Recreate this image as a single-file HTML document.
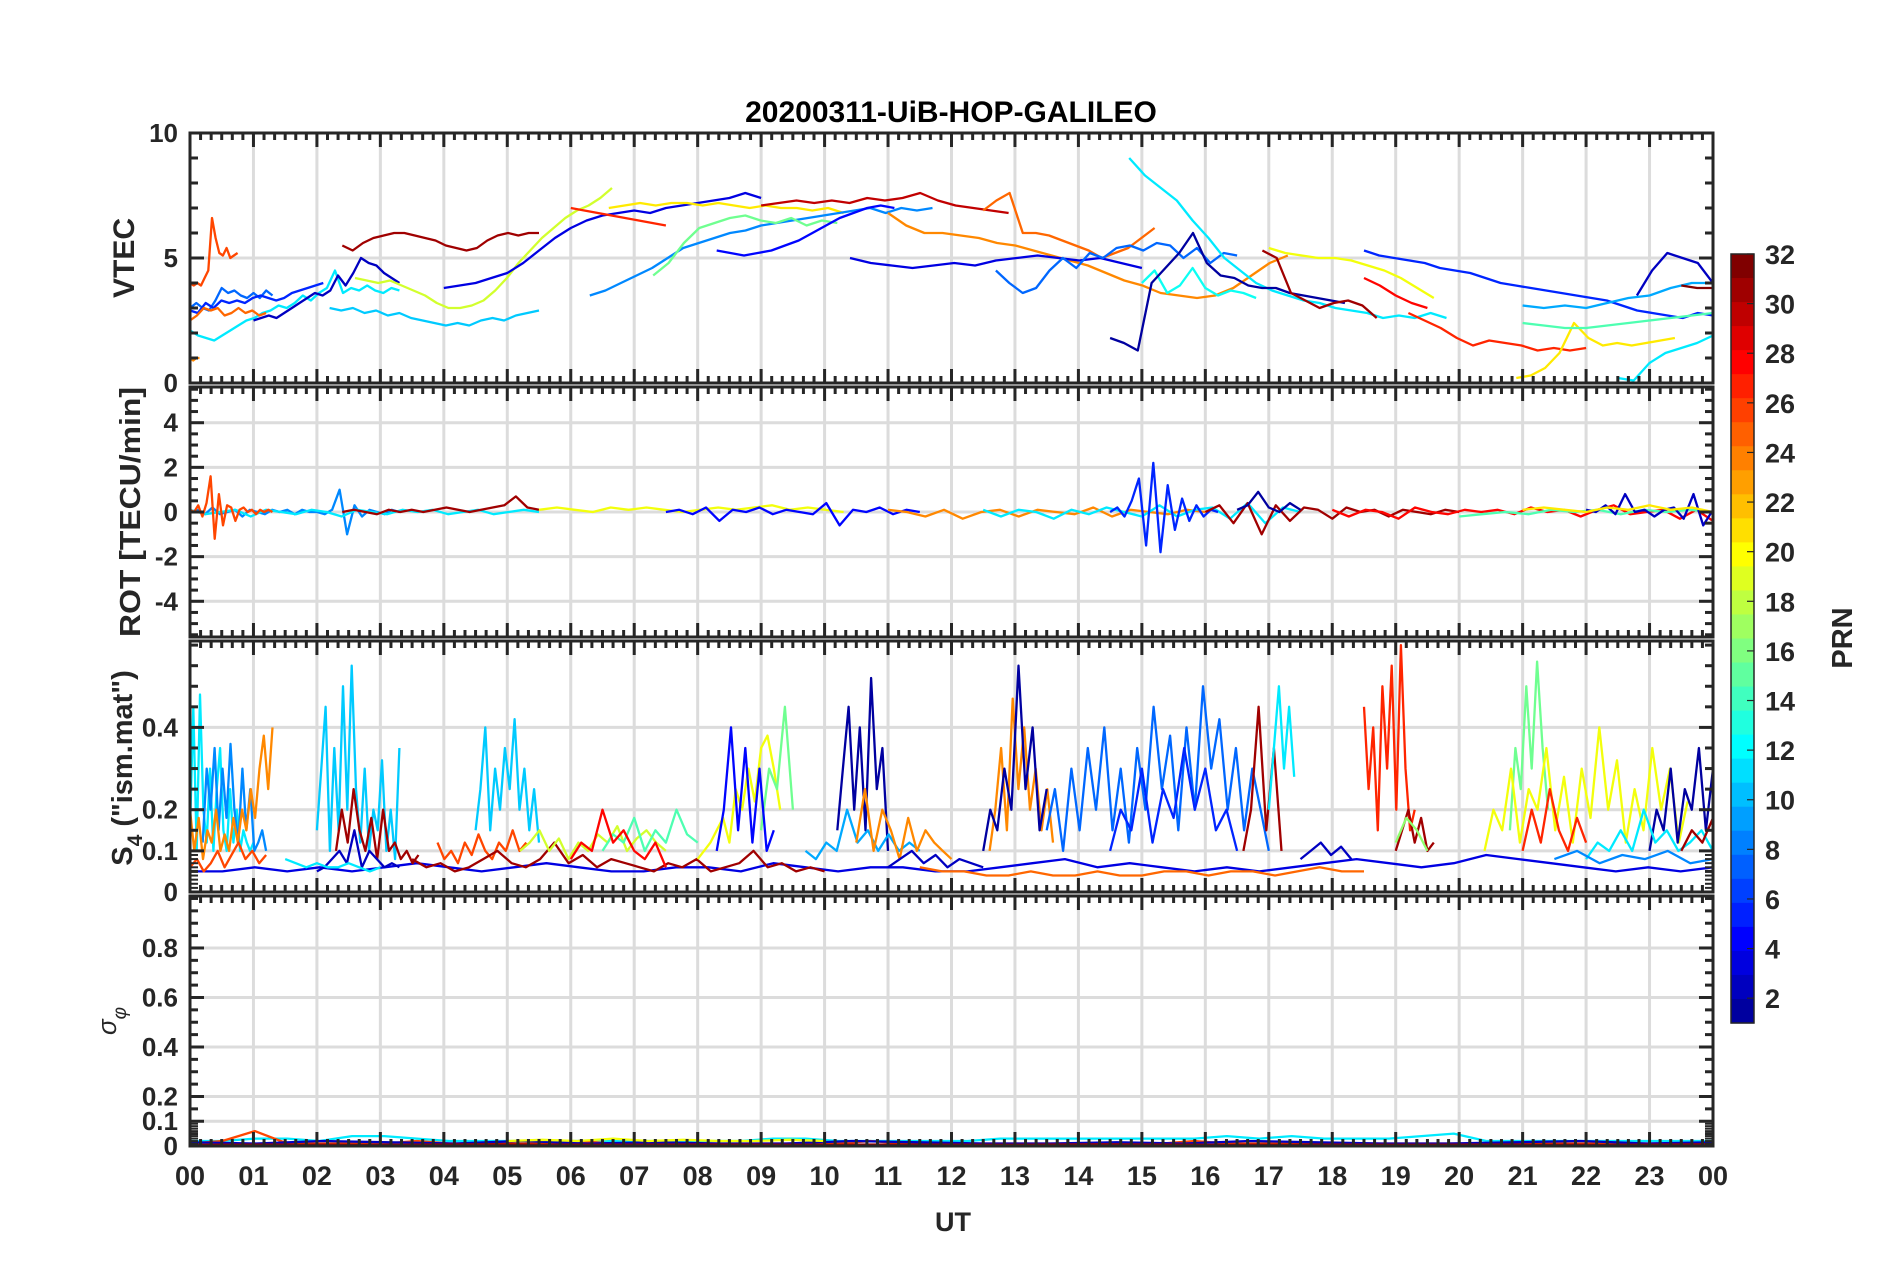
<!DOCTYPE html>
<html><head><meta charset="utf-8"><style>
html,body{margin:0;padding:0;background:#fff;}
svg{display:block;font-family:"Liberation Sans",Arial,sans-serif;}
</style></head><body>
<svg id="chart" width="1902" height="1272" viewBox="0 0 1902 1272" xmlns="http://www.w3.org/2000/svg">
<rect x="0" y="0" width="1902" height="1272" fill="#fff"/>
<text x="951" y="122" text-anchor="middle" font-size="30" font-weight="bold" fill="#000">20200311-UiB-HOP-GALILEO</text>
<text x="953" y="1231" text-anchor="middle" font-size="27" font-weight="bold" fill="#262626">UT</text>
<text transform="translate(134,258) rotate(-90)" text-anchor="middle" font-size="30" font-weight="bold" fill="#262626">VTEC</text>
<text transform="translate(140,512) rotate(-90)" text-anchor="middle" font-size="29" font-weight="bold" fill="#262626" textLength="250" lengthAdjust="spacingAndGlyphs">ROT [TECU/min]</text>
<text transform="translate(132,768) rotate(-90)" text-anchor="middle" font-size="29" font-weight="bold" fill="#262626">S<tspan font-size="21" dy="10">4</tspan><tspan dy="-10"> ("ism.mat")</tspan></text>
<text transform="translate(116,1021) rotate(-90)" text-anchor="middle" font-size="26" font-style="italic" fill="#262626">σ<tspan font-size="19" dy="10">φ</tspan></text>
<g id="plots"></g>
<g id="cbar"></g>
</svg>
<script>
// ---------- data ----------
const hourLabels = ["00","01","02","03","04","05","06","07","08","09","10","11","12","13","14","15","16","17","18","19","20","21","22","23","00"];
const vtecTicks = [0,5,10];
const rotTicks = [-4,-2,0,2,4];
const s4Ticks = [0,0.1,0.2,0.4];
const sigTicks = [0,0.1,0.2,0.4,0.6,0.8];
const cbarTicks = [2,4,6,8,10,12,14,16,18,20,22,24,26,28,30,32];

// each series: [PRN, start hour, end hour, values (evenly spaced)]
const vtecSeries = [
 [26,0,0.75,[4.0,3.9,4.0,3.9,4.2,4.5,6.6,5.8,5.2,5.1,5.4,5.0,5.1,5.2]],
 [24,0,0.15,[1.0,0.9,1.0,1.0]],
 [8,0,1.3,[3.0,3.2,3.0,2.9,3.3,3.8,3.6,3.7,3.5,3.4,3.6,3.4,3.7,3.5]],
 [12,0,3.3,[2.1,1.9,1.8,1.7,1.9,2.1,2.3,2.5,2.6,2.8,2.9,3.1,3.0,3.2,3.5,3.3,3.6,3.8,4.5,3.6,3.8,3.7,3.9,3.7,3.6,3.8,3.7]],
 [6,0,2.1,[2.9,2.8,3.2,3.0,3.3,3.2,3.3,3.2,3.4,3.5,3.4,3.3,3.4,3.6,3.7,3.8,3.9,4.0]],
 [25,0,1.2,[2.5,2.7,3.0,2.9,3.0,2.7,2.8,3.0,2.8,2.9,2.7,2.8]],
 [3,1.0,3.3,[2.5,2.6,2.7,2.6,2.8,3.0,3.2,3.4,3.6,3.5,3.7,4.3,3.9,4.4,5.0,4.8,4.7,4.4,4.2,4.0]],
 [31,2.4,5.5,[5.5,5.3,5.6,5.8,5.9,6.0,6.0,5.9,5.8,5.7,5.5,5.4,5.3,5.4,5.7,5.9,6.0,5.9,6.0,6.0]],
 [19,2.6,6.65,[4.2,4.1,4.0,4.1,3.9,3.7,3.5,3.2,3.0,3.0,3.1,3.3,3.7,4.2,4.8,5.3,5.8,6.2,6.6,6.9,7.1,7.4,7.8]],
 [11,2.2,5.5,[3.0,2.9,3.0,2.8,2.9,2.7,2.8,2.6,2.5,2.4,2.3,2.4,2.3,2.5,2.6,2.5,2.7,2.8,2.9]],
 [4,4.0,9.0,[3.8,3.9,4.0,4.2,4.4,4.8,5.3,5.8,6.2,6.5,6.7,6.8,6.9,6.8,7.0,7.1,7.2,7.3,7.4,7.6,7.4]],
 [21,6.6,10.3,[7.0,7.1,7.2,7.1,7.2,7.2,7.1,7.2,7.1,7.0,7.1,7.0,7.0,6.9,7.0,6.8]],
 [27,6.0,7.5,[7.0,6.9,6.8,6.7,6.6,6.5,6.4,6.3]],
 [9,6.3,11.7,[3.5,3.7,4.0,4.3,4.6,5.0,5.4,5.6,5.8,6.0,6.1,6.3,6.4,6.5,6.6,6.7,6.8,6.9,7.0,6.8,7.0,6.9,7.0]],
 [16,7.3,10.2,[4.3,4.8,5.6,6.2,6.4,6.6,6.7,6.5,6.4,6.6,6.3,6.5,6.4]],
 [5,8.3,11.1,[5.3,5.2,5.1,5.2,5.3,5.5,5.7,6.0,6.3,6.6,6.8,7.0,7.1,7.0]],
 [30,9.0,12.9,[7.1,7.2,7.3,7.2,7.3,7.2,7.4,7.3,7.4,7.6,7.3,7.1,7.0,6.9,6.8]],
 [24,11.0,17.3,[6.8,6.3,6.0,6.0,5.9,5.8,5.6,5.5,5.3,5.1,4.9,4.7,4.4,4.1,3.9,3.6,3.5,3.4,3.5,3.8,4.3,4.8,5.1]],
 [25,12.5,15.2,[6.9,7.3,7.6,6.0,6.0,5.9,5.7,5.5,5.3,5.0,5.2,5.4,5.8,6.2]],
 [4,10.4,15.0,[5.0,4.8,4.7,4.6,4.7,4.8,4.7,4.9,5.0,5.1,5.0,4.9,5.0,4.8,4.6]],
 [8,12.7,16.5,[4.5,4.0,3.6,3.8,4.5,5.0,4.6,5.2,5.0,5.4,5.5,5.3,5.6,5.5,5.0,5.4,4.8,5.2,5.1]],
 [12,14.8,19.8,[9.0,8.3,7.8,7.3,6.5,5.8,5.0,4.5,4.0,3.7,3.5,3.3,3.2,3.0,2.9,2.8,2.6,2.7,2.6,2.8,2.6]],
 [13,15.0,16.8,[4.0,4.5,3.6,3.9,4.6,3.8,3.5,3.7,3.6,3.4]],
 [2,14.5,18.2,[1.8,1.6,1.3,4.0,4.6,5.2,6.0,4.8,4.3,4.2,3.9,3.8,3.8,3.6,3.5,3.4,3.3,3.2]],
 [6,18.5,24,[5.3,5.1,5.0,4.9,4.8,4.6,4.5,4.4,4.2,4.0,3.9,3.8,3.7,3.6,3.5,3.4,3.3,3.1,2.9,2.8,2.7,2.6,2.8,2.7]],
 [31,16.9,18.7,[5.3,5.0,3.6,3.3,3.0,3.2,3.3,3.1,2.6]],
 [28,18.5,19.5,[4.2,3.9,3.5,3.2,3.0]],
 [20,17.0,19.6,[5.4,5.2,5.1,5.0,5.0,4.9,4.7,4.5,4.2,3.8,3.4]],
 [27,19.2,22.0,[2.8,2.5,2.2,1.8,1.5,1.7,1.6,1.5,1.3,1.4,1.3,1.4]],
 [21,20.9,23.4,[0.2,0.3,0.6,1.2,2.4,1.8,1.5,1.6,1.5,1.6,1.7,1.8]],
 [15,21.0,24,[2.4,2.3,2.2,2.2,2.3,2.4,2.5,2.6,2.7,2.8]],
 [12,22.5,24,[0.2,0.1,0.8,1.2,1.4,1.6,1.9]],
 [10,21.0,24,[3.1,3.0,3.1,3.0,3.2,3.4,3.5,3.8,4.0,4.0]],
 [3,22.8,24,[3.5,4.5,5.2,5.0,4.8,4.0]],
 [32,23.5,24,[3.9,3.8,3.8]]
];

const rotSeries = [
 [9,0,3.3,[0,0.1,-0.1,0.2,-0.1,0,0.1,-0.2,0.1,0,-0.1,0.1,0,0.1,-0.1,0.1,0,0,-0.1,0.1,1.0,-1.0,0.3,-0.2,0.1,0,-0.1,0.1,0]],
 [12,0,5.5,[0.1,-0.1,0,0.1,-0.2,0.1,0,-0.1,0.1,0,-0.2,0.1,0,-0.1,0.1,0,0.1,-0.1,0,0.1,-0.1,0,0.1,0]],
 [26,0,1.3,[0.1,0,0.3,-0.2,0.4,1.6,-1.2,0.8,-0.6,0.3,0.2,-0.4,0.1,0.2,0,0.1,-0.1,0.1,0,0.1,0]],
 [31,2.4,5.5,[0,0.1,0,-0.1,0.1,0,0.1,0,0.1,0.2,0.1,0,0.1,0.2,0.3,0.7,0.2,0.1]],
 [20,5.5,10.3,[0.1,0.2,0.1,0,0.2,0.1,0.2,0.1,0,0.1,0.2,0.1,0.2,0.3,0.1,0.2,0.1,0]],
 [5,7.5,11.5,[0,0.1,-0.1,0.2,-0.4,0.1,0,0.2,-0.1,0.1,0,-0.1,0.4,-0.6,0.1,0,0.2,-0.1,0.1,0]],
 [24,11,16,[0.1,0,-0.2,0.1,-0.3,0,0.1,-0.2,0.1,0,-0.1,0.2,-0.2,0.1,0,-0.1,0.1,0]],
 [12,12.5,17.5,[0.1,-0.2,0.1,0,-0.3,0.1,-0.1,0.2,0,-0.2,0.3,-0.2,0.1,0.2,-0.3,0.4,-0.5,0.2,0]],
 [6,14.5,16.2,[0,0.2,-0.2,0.5,1.5,-1.5,2.2,-1.8,1.2,-0.8,0.6,-0.4,0.3,-0.2,0.1,0]],
 [31,16,20,[0,0.3,-0.5,0.4,-1.0,0.3,-0.4,0.2,0.1,-0.3,0.2,0,0.1,-0.2,0.1,0,-0.1,0.1,0]],
 [2,16.5,17.5,[0.1,0.3,0.9,0.2,0,0.4,0.1]],
 [28,18,24,[0.1,-0.2,0.1,0,-0.3,0.2,0,-0.1,0.1,0,0.1,-0.1,0.2,0,0.1,-0.2,0.1,0.3,-0.1,0,0.1,-0.3,0.1,-0.4]],
 [15,20,24,[-0.2,-0.1,0,-0.1,0.1,0,0.1,-0.1,0.1,0,0.1,0]],
 [3,22,24,[0.1,0,0.3,-0.1,0.8,0,0.1,-0.2,0.1,0.2,-0.3,0.8,-0.6,0.1]],
 [21,21,24,[0.1,0.2,0.1,0,0.2,0.1,0.3,0.1,0.2,0]]
];

const s4Series = [
 [4,0,24,[0.05,0.05,0.06,0.05,0.06,0.05,0.06,0.07,0.06,0.05,0.06,0.07,0.06,0.05,0.05,0.06,0.06,0.05,0.07,0.06,0.05,0.06,0.06,0.05,0.05,0.06,0.07,0.08,0.06,0.07,0.06,0.05,0.06,0.05,0.06,0.07,0.08,0.07,0.06,0.07,0.09,0.08,0.07,0.06,0.05,0.06,0.05,0.06]],
 [25,11.5,18.5,[0.06,0.05,0.05,0.04,0.04,0.05,0.04,0.04,0.05,0.04,0.04,0.05,0.05,0.04,0.05,0.05,0.04,0.05,0.06,0.05,0.05]],
 [12,0,1.0,[0.15,0.45,0.1,0.48,0.2,0.12,0.3,0.1,0.25,0.35,0.15,0.1,0.25,0.12,0.2,0.1,0.15,0.12,0.1,0.12]],
 [9,0.2,1.2,[0.12,0.3,0.2,0.35,0.15,0.3,0.18,0.36,0.2,0.12,0.3,0.15,0.25,0.1,0.12,0.15,0.1]],
 [24,0,1.3,[0.2,0.1,0.18,0.08,0.15,0.12,0.2,0.1,0.14,0.1,0.18,0.12,0.2,0.15,0.25,0.18,0.3,0.38,0.25,0.4]],
 [26,0,1.2,[0.06,0.08,0.05,0.07,0.1,0.06,0.09,0.12,0.08,0.1,0.07,0.09]],
 [11,2.0,3.3,[0.15,0.3,0.45,0.1,0.35,0.15,0.5,0.2,0.55,0.25,0.12,0.3,0.1,0.2,0.15,0.32,0.1,0.2,0.08,0.35]],
 [31,2.3,3.6,[0.1,0.2,0.12,0.25,0.15,0.1,0.18,0.08,0.2,0.1,0.12,0.08,0.1,0.07,0.09]],
 [3,2.0,3.3,[0.05,0.06,0.08,0.1,0.07,0.15,0.06,0.1,0.08,0.06,0.07,0.06]],
 [12,1.5,3.0,[0.08,0.07,0.06,0.07,0.06,0.06,0.07,0.06,0.05,0.06]],
 [26,3.9,5.3,[0.12,0.08,0.1,0.07,0.12,0.09,0.14,0.1,0.08,0.12,0.1,0.15,0.1,0.12]],
 [11,4.5,5.5,[0.15,0.25,0.4,0.15,0.3,0.2,0.35,0.25,0.42,0.2,0.3,0.15,0.25,0.12]],
 [31,3.5,10.0,[0.08,0.06,0.07,0.05,0.06,0.08,0.1,0.07,0.06,0.08,0.12,0.07,0.09,0.06,0.08,0.07,0.06,0.05,0.07,0.06,0.08,0.05,0.06,0.07,0.1,0.06,0.07,0.05,0.06,0.05]],
 [19,5.2,7.5,[0.1,0.12,0.15,0.1,0.13,0.08,0.12,0.1,0.14,0.12,0.16,0.1,0.13,0.15,0.12,0.1]],
 [15,6.5,8.0,[0.1,0.14,0.12,0.18,0.1,0.15,0.12,0.2,0.14,0.12]],
 [28,6.0,7.5,[0.08,0.12,0.1,0.2,0.12,0.15,0.1,0.08,0.12,0.06]],
 [20,8.0,9.3,[0.08,0.1,0.12,0.15,0.18,0.12,0.25,0.2,0.3,0.22,0.35,0.38,0.3,0.2]],
 [16,9.0,9.5,[0.15,0.3,0.25,0.45,0.2]],
 [5,8.3,9.2,[0.1,0.2,0.4,0.15,0.35,0.12,0.3,0.1,0.15]],
 [2,10.2,11.0,[0.15,0.3,0.45,0.2,0.4,0.15,0.52,0.25,0.35,0.1]],
 [10,9.7,11.5,[0.1,0.08,0.12,0.1,0.2,0.12,0.15,0.1,0.14,0.1,0.12,0.1]],
 [24,10.5,12.0,[0.12,0.25,0.1,0.2,0.15,0.08,0.18,0.1,0.15,0.12,0.1,0.08]],
 [3,11.0,12.5,[0.06,0.08,0.1,0.07,0.09,0.06,0.08,0.07,0.06]],
 [24,12.6,13.6,[0.1,0.2,0.35,0.15,0.47,0.25,0.4,0.2,0.3,0.15,0.25,0.12]],
 [2,12.5,13.5,[0.1,0.2,0.15,0.3,0.2,0.55,0.25,0.4,0.15,0.25]],
 [8,13.5,17.0,[0.15,0.25,0.1,0.3,0.15,0.35,0.2,0.4,0.15,0.3,0.12,0.35,0.2,0.45,0.25,0.38,0.15,0.4,0.2,0.5,0.3,0.42,0.2,0.35,0.15,0.3,0.2,0.1]],
 [6,14.5,16.5,[0.1,0.2,0.15,0.3,0.12,0.25,0.18,0.35,0.2,0.3,0.15,0.2,0.1]],
 [31,16.6,17.2,[0.1,0.2,0.45,0.15,0.35,0.1]],
 [12,17.0,17.4,[0.2,0.35,0.5,0.3,0.45,0.28]],
 [3,17.5,18.3,[0.08,0.1,0.12,0.09,0.11,0.08]],
 [27,18.5,19.3,[0.45,0.25,0.4,0.15,0.5,0.3,0.55,0.2,0.6,0.3,0.15,0.2]],
 [31,19.0,19.6,[0.1,0.15,0.2,0.12,0.18,0.1,0.12]],
 [17,19.0,19.5,[0.12,0.18,0.15,0.1]],
 [16,20.8,21.4,[0.15,0.35,0.25,0.5,0.3,0.56,0.35,0.2]],
 [20,20.4,23.6,[0.1,0.2,0.15,0.3,0.12,0.25,0.2,0.35,0.15,0.28,0.12,0.3,0.18,0.4,0.2,0.32,0.12,0.25,0.15,0.35,0.2,0.3,0.12,0.22]],
 [27,21.0,22.0,[0.1,0.2,0.12,0.25,0.15,0.1,0.18,0.12]],
 [2,23.0,24.0,[0.1,0.2,0.15,0.3,0.12,0.25,0.2,0.35,0.15,0.3]],
 [12,22.0,24.0,[0.08,0.12,0.1,0.15,0.1,0.2,0.12,0.15,0.1,0.12,0.15,0.1]],
 [31,23.5,24.0,[0.1,0.15,0.12,0.18]],
 [9,21.5,24,[0.08,0.1,0.07,0.09,0.08,0.1,0.07,0.08]]
];

const sigSeries = [
 [12,0,24,[0.02,0.02,0.03,0.03,0.02,0.04,0.04,0.03,0.02,0.02,0.02,0.02,0.02,0.02,0.02,0.02,0.02,0.02,0.03,0.03,0.02,0.02,0.02,0.02,0.02,0.03,0.03,0.03,0.03,0.03,0.03,0.03,0.04,0.03,0.04,0.03,0.03,0.03,0.04,0.05,0.02,0.02,0.02,0.02,0.02,0.02,0.02,0.02]],
 [26,0,24,[0.01,0.02,0.06,0.01,0.01,0.01,0.01,0.02,0.01,0.01,0.01,0.01,0.02,0.01,0.01,0.01,0.01,0.01,0.01,0.01,0.01,0.02,0.01,0.01,0.01,0.01,0.01,0.01,0.01,0.01,0.01,0.02,0.01,0.01,0.01,0.01,0.01,0.01,0.01,0.01,0.01,0.01,0.01,0.01,0.01,0.01,0.01,0.01]],
 [3,0,24,[0.015,0.01,0.02,0.015,0.01,0.02,0.01,0.015,0.01,0.01,0.02,0.015,0.01,0.01,0.015,0.01,0.02,0.015,0.01,0.01,0.015,0.02,0.01,0.015]],
 [20,5,10,[0.02,0.025,0.02,0.03,0.02,0.025,0.02,0.02,0.025,0.02]],
 [31,0,24,[0.005,0.006,0.005,0.007,0.005,0.006,0.005,0.006,0.005,0.007,0.005,0.006,0.005,0.006,0.005,0.007]]
];

// ---------- layout ----------
const X0 = 190, X1 = 1713;
const panels = [
 {name:"vtec", top:133, h:250, ymin:0, ymax:10, ticks:vtecTicks, labels:["0","5","10"], minor:1, series:vtecSeries},
 {name:"rot", top:387, h:250, ymin:-5.6, ymax:5.6, ticks:rotTicks, labels:["-4","-2","0","2","4"], minor:0.5, series:rotSeries},
 {name:"s4", top:641, h:251, ymin:0, ymax:0.61, ticks:s4Ticks, labels:["0","0.1","0.2","0.4"], minor:0.05, series:s4Series},
 {name:"sigma", top:896, h:250, ymin:0, ymax:1.01, ticks:sigTicks, labels:["0","0.1","0.2","0.4","0.6","0.8"], minor:0.05, series:sigSeries}
];
const NS = "http://www.w3.org/2000/svg";
function xs(t){ return X0 + (X1 - X0) * t / 24; }
function jet(p){ // p in 1..32
  const t = (p - 1) / 31;
  const c = v => Math.round(255 * Math.max(0, Math.min(1, v)));
  return "rgb(" + c(1.5 - Math.abs(4*t - 3)) + "," + c(1.5 - Math.abs(4*t - 2)) + "," + c(1.5 - Math.abs(4*t - 1)) + ")";
}
function mk(tag, attrs, parent){
  const e = document.createElementNS(NS, tag);
  for (const k in attrs) e.setAttribute(k, attrs[k]);
  parent.appendChild(e);
  return e;
}
const plots = document.getElementById("plots");
const AX = "#262626";

panels.forEach((P, pi) => {
  const ys = v => P.top + P.h - (v - P.ymin) / (P.ymax - P.ymin) * P.h;
  const g = mk("g", {}, plots);
  
  
  const cp = mk("clipPath", {id: "clip" + pi}, g);
  mk("rect", {x: X0, y: P.top, width: X1 - X0, height: P.h}, cp);
  for (let hr = 1; hr < 24; hr++) {
    const l = mk("line", {x1: xs(hr), x2: xs(hr), y1: P.top, y2: P.top + P.h, stroke: "#dcdcdc", "stroke-width": 3}, g);
    
    
  }
  P.ticks.forEach(v => {
    if (v === P.ymin || v === P.ymax) return;
    const l = mk("line", {x1: X0, x2: X1, y1: ys(v), y2: ys(v), stroke: "#dcdcdc", "stroke-width": 3}, g);
    
    
  });
  const sg = mk("g", {"clip-path": "url(#clip" + pi + ")"}, g);
  P.series.forEach(s => {
    const [prn, t0, t1, vals] = s;
    const n = vals.length;
    const pts = vals.map((v, i) => xs(t0 + (t1 - t0) * (n > 1 ? i / (n - 1) : 0)).toFixed(1) + "," + ys(v).toFixed(1)).join(" ");
    const pl = mk("polyline", {points: pts, fill: "none", stroke: jet(prn), "stroke-width": 2.3, "stroke-linejoin": "round"}, sg);
    
    
  });
  for (let m = 0; m <= 144; m++) {
    const x = xs(m / 6);
    const L = m % 6 === 0 ? 14 : 7;
    mk("line", {x1: x, x2: x, y1: P.top, y2: P.top + L, stroke: AX, "stroke-width": 3}, g);
    mk("line", {x1: x, x2: x, y1: P.top + P.h, y2: P.top + P.h - L, stroke: AX, "stroke-width": 3}, g);
  }
  const start = Math.ceil(P.ymin / P.minor) * P.minor;
  for (let v = start; v <= P.ymax + 1e-9; v += P.minor) {
    const y = ys(v);
    const major = P.ticks.some(t => Math.abs(t - v) < 1e-6);
    const L = major ? 14 : 8;
    mk("line", {x1: X0, x2: X0 + L, y1: y, y2: y, stroke: AX, "stroke-width": 3}, g);
    mk("line", {x1: X1, x2: X1 - L, y1: y, y2: y, stroke: AX, "stroke-width": 3}, g);
  }
  if (P.name === "sigma" || P.name === "s4") {
    for (let v = 0.01; v < 0.1; v += 0.01) {
      const y = ys(v);
      mk("line", {x1: X0, x2: X0 + 8, y1: y, y2: y, stroke: AX, "stroke-width": 2}, g);
      mk("line", {x1: X1, x2: X1 - 8, y1: y, y2: y, stroke: AX, "stroke-width": 2}, g);
    }
  }
  const fr = mk("rect", {x: X0, y: P.top, width: X1 - X0, height: P.h, fill: "none", stroke: AX, "stroke-width": 3}, g);
  
  
  P.ticks.forEach((v, i) => {
    const t = mk("text", {x: 178, y: ys(v) + 9, "text-anchor": "end", "font-size": 26, "font-weight": "bold", fill: AX}, g);
    t.textContent = P.labels[i];
    
    
  });
});
hourLabels.forEach((lab, i) => {
  const t = mk("text", {x: xs(i), y: 1185, "text-anchor": "middle", "font-size": 27, "font-weight": "bold", fill: AX}, plots);
  t.textContent = lab;
  
  
});

// colorbar
const cb = document.getElementById("cbar");


const CBX = 1731, CBW = 23, CBT = 254, CBB = 1023, CMIN = 1, CMAX = 32;
const cy = v => CBB - (v - CMIN) / (CMAX - CMIN) * (CBB - CBT);
for (let k = 0; k < 32; k++) {
  const y0 = CBT + k * (CBB - CBT) / 32, y1 = CBT + (k + 1) * (CBB - CBT) / 32;
  mk("rect", {x: CBX, y: y0, width: CBW, height: y1 - y0 + 0.6, fill: jet(32 - k * 31 / 31 * 31 / 32)}, cb);
}
mk("rect", {x: CBX, y: CBT, width: CBW, height: CBB - CBT, fill: "none", stroke: AX, "stroke-width": 1.5}, cb);
cbarTicks.forEach(v => {
  mk("line", {x1: CBX + CBW - 7, x2: CBX + CBW, y1: cy(v), y2: cy(v), stroke: AX, "stroke-width": 1.2}, cb);
  const t = mk("text", {x: 1765, y: cy(v) + 10, "font-size": 27, "font-weight": "bold", fill: AX}, cb);
  t.textContent = String(v);
  
  
});
const pt = mk("text", {transform: "translate(1852,638) rotate(-90)", "text-anchor": "middle", "font-size": 29, "font-weight": "bold", fill: AX}, cb);
pt.textContent = "PRN";


</script>
</body></html>
